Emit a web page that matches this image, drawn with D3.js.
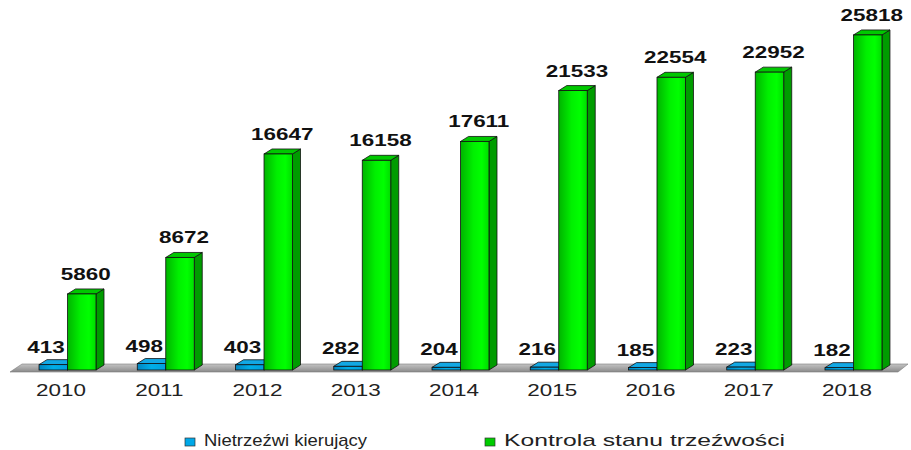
<!DOCTYPE html>
<html>
<head>
<meta charset="utf-8">
<script src="https://cdn.jsdelivr.net/npm/d3@7"></script>
<style>
  html, body { margin: 0; padding: 0; background: #fff; }
  svg { display: block; font-family: "Liberation Sans", Arial, sans-serif; }
</style>
</head>
<body>
<svg id="chart" width="911" height="450"></svg>
<script>
const years = ["2010", "2011", "2012", "2013", "2014", "2015", "2016", "2017", "2018"];
const drunkDrivers = [413, 498, 403, 282, 204, 216, 185, 223, 182];
const sobrietyChecks = [5860, 8672, 16647, 16158, 17611, 21533, 22554, 22952, 25818];
const seriesNames = ["Nietrzeźwi kierujący", "Kontrola stanu trzeźwości"];

const width = 911;
const height = 450;
const base = 370;
const dx = 8;
const dy = 5;
const stretch = 1.32;

const svg = d3.select("#chart");
const defs = svg.append("defs");

function hGrad(id, stops) {
  const g = defs.append("linearGradient").attr("id", id)
    .attr("x1", 0).attr("x2", 1).attr("y1", 0).attr("y2", 0);
  stops.forEach(([o, c]) => g.append("stop").attr("offset", o).attr("stop-color", c));
}
hGrad("greenFront", [["0%", "#00b400"], ["45%", "#00f000"], ["75%", "#00ff00"], ["100%", "#00dc00"]]);
hGrad("blueFront", [["0%", "#0085c0"], ["50%", "#00aee8"], ["100%", "#00a0dc"]]);
const fg = defs.append("linearGradient").attr("id", "floor")
  .attr("x1", 0).attr("x2", 0).attr("y1", 0).attr("y2", 1);
fg.append("stop").attr("offset", "0%").attr("stop-color", "#c4c4c4");
fg.append("stop").attr("offset", "100%").attr("stop-color", "#8a8a8a");

const x = d3.scaleBand().domain(years).range([18.4, 902.6]).paddingInner(0.42).paddingOuter(0.21);
const inner = d3.scaleBand().domain(seriesNames).range([0, x.bandwidth()]);
const y = d3.scaleLinear().domain([0, 26000]).range([base, 32.6]);

// floor
svg.append("path")
  .attr("d", `M10,372 L898,372 L908,364 L22,364 Z`)
  .attr("fill", "url(#floor)")
  .attr("stroke", "#7a7a7a")
  .attr("stroke-width", 0.6);

const styles = [
  { front: "url(#blueFront)", side: "#00699c", top: "#12a8e4" },
  { front: "url(#greenFront)", side: "#009c00", top: "#00c800" }
];

function bar(g, x0, v, st) {
  const w = inner.bandwidth();
  const yt = y(v);
  g.append("path")
    .attr("d", `M${x0 + w},${base} L${x0 + w + dx},${base - dy} L${x0 + w + dx},${yt - dy} L${x0 + w},${yt} Z`)
    .attr("fill", st.side).attr("stroke", "#111").attr("stroke-width", 0.8);
  g.append("path")
    .attr("d", `M${x0},${yt} L${x0 + dx},${yt - dy} L${x0 + w + dx},${yt - dy} L${x0 + w},${yt} Z`)
    .attr("fill", st.top).attr("stroke", "#111").attr("stroke-width", 0.8);
  g.append("rect")
    .attr("x", x0).attr("y", yt).attr("width", w).attr("height", base - yt)
    .attr("fill", st.front).attr("stroke", "#111").attr("stroke-width", 0.8);
}

const groups = svg.selectAll("g.year").data(years).join("g").attr("class", "year");

groups.each(function (yr, i) {
  const g = d3.select(this);
  const bx = x(yr) + inner(seriesNames[0]);
  const gx = x(yr) + inner(seriesNames[1]);
  bar(g, bx, drunkDrivers[i], styles[0]);
  bar(g, gx, sobrietyChecks[i], styles[1]);

  g.append("text")
    .attr("transform", `translate(${bx + 7},${y(drunkDrivers[i]) - dy - 7}) scale(${stretch},1)`)
    .attr("text-anchor", "middle")
    .attr("font-size", 17).attr("font-weight", "bold").attr("fill", "#111")
    .text(drunkDrivers[i]);

  g.append("text")
    .attr("transform", `translate(${gx + (inner.bandwidth() + dx) / 2},${y(sobrietyChecks[i]) - dy - 9}) scale(${stretch},1)`)
    .attr("text-anchor", "middle")
    .attr("font-size", 17).attr("font-weight", "bold").attr("fill", "#111")
    .text(sobrietyChecks[i]);

  g.append("text")
    .attr("transform", `translate(${bx + 22},396) scale(${stretch},1)`)
    .attr("text-anchor", "middle")
    .attr("font-size", 17).attr("fill", "#222")
    .text(yr);
});

// legend
const legend = [
  { name: seriesNames[0], color: "#00a8e8", x: 185, len: 163 },
  { name: seriesNames[1], color: "#00cc00", x: 485, len: 281 }
];
legend.forEach((d) => {
  svg.append("rect").attr("x", d.x).attr("y", 438).attr("width", 10).attr("height", 8)
    .attr("fill", d.color).attr("stroke", "#333").attr("stroke-width", 0.7);
  svg.append("text").attr("x", d.x + 19).attr("y", 446)
    .attr("font-size", 17).attr("fill", "#222")
    .attr("textLength", d.len).attr("lengthAdjust", "spacingAndGlyphs")
    .text(d.name);
});
</script>
</body>
</html>
